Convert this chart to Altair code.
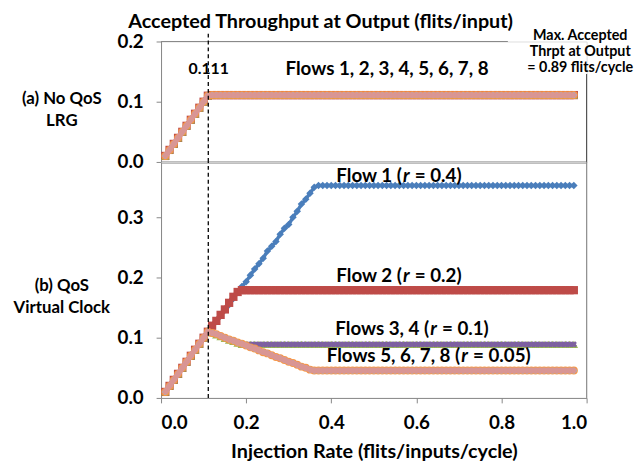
import altair as alt
import pandas as pd

FONT = "Lato"

# ---------------- data ----------------
inj = [0.01, 0.02, 0.03, 0.04, 0.05, 0.06, 0.07, 0.08, 0.09, 0.10,
       0.11, 0.12, 0.13, 0.14, 0.15, 0.16, 0.17, 0.18, 0.19, 0.20,
       0.21, 0.22, 0.23, 0.24, 0.25, 0.26, 0.27, 0.28, 0.29, 0.30,
       0.31, 0.32, 0.33, 0.34, 0.35, 0.36, 0.37, 0.38, 0.39, 0.40,
       0.41, 0.42, 0.43, 0.44, 0.45, 0.46, 0.47, 0.48, 0.49, 0.50,
       0.51, 0.52, 0.53, 0.54, 0.55, 0.56, 0.57, 0.58, 0.59, 0.60,
       0.61, 0.62, 0.63, 0.64, 0.65, 0.66, 0.67, 0.68, 0.69, 0.70,
       0.71, 0.72, 0.73, 0.74, 0.75, 0.76, 0.77, 0.78, 0.79, 0.80,
       0.81, 0.82, 0.83, 0.84, 0.85, 0.86, 0.87, 0.88, 0.89, 0.90,
       0.91, 0.92, 0.93, 0.94, 0.95, 0.96, 0.97]

# (a) No QoS, LRG: every flow gets the same throughput
lrg_all = [0.01, 0.02, 0.03, 0.04, 0.05, 0.06, 0.07, 0.08, 0.09, 0.10,
           0.11, 0.111, 0.111, 0.111, 0.111, 0.111, 0.111, 0.111, 0.111, 0.111,
           0.111, 0.111, 0.111, 0.111, 0.111, 0.111, 0.111, 0.111, 0.111, 0.111,
           0.111, 0.111, 0.111, 0.111, 0.111, 0.111, 0.111, 0.111, 0.111, 0.111,
           0.111, 0.111, 0.111, 0.111, 0.111, 0.111, 0.111, 0.111, 0.111, 0.111,
           0.111, 0.111, 0.111, 0.111, 0.111, 0.111, 0.111, 0.111, 0.111, 0.111,
           0.111, 0.111, 0.111, 0.111, 0.111, 0.111, 0.111, 0.111, 0.111, 0.111,
           0.111, 0.111, 0.111, 0.111, 0.111, 0.111, 0.111, 0.111, 0.111, 0.111,
           0.111, 0.111, 0.111, 0.111, 0.111, 0.111, 0.111, 0.111, 0.111, 0.111,
           0.111, 0.111, 0.111, 0.111, 0.111, 0.111, 0.111]

# (b) QoS, Virtual Clock
vc_flow1 = [0.01, 0.02, 0.03, 0.04, 0.05, 0.06, 0.07, 0.08, 0.09, 0.10,
            0.11, 0.118, 0.127, 0.136, 0.146, 0.155, 0.165, 0.176, 0.185, 0.193,
            0.204, 0.214, 0.223, 0.232, 0.244, 0.252, 0.260, 0.272, 0.282, 0.288,
            0.300, 0.310, 0.322, 0.330, 0.340, 0.350, 0.353, 0.353, 0.353, 0.353,
            0.353, 0.353, 0.353, 0.353, 0.353, 0.353, 0.353, 0.353, 0.353, 0.353,
            0.353, 0.353, 0.353, 0.353, 0.353, 0.353, 0.353, 0.353, 0.353, 0.353,
            0.353, 0.353, 0.353, 0.353, 0.353, 0.353, 0.353, 0.353, 0.353, 0.353,
            0.353, 0.353, 0.353, 0.353, 0.353, 0.353, 0.353, 0.353, 0.353, 0.353,
            0.353, 0.353, 0.353, 0.353, 0.353, 0.353, 0.353, 0.353, 0.353, 0.353,
            0.353, 0.353, 0.353, 0.353, 0.353, 0.353, 0.353]

vc_flow2 = [0.01, 0.02, 0.03, 0.04, 0.05, 0.06, 0.07, 0.08, 0.09, 0.10,
            0.11, 0.120, 0.128, 0.138, 0.147, 0.158, 0.168, 0.176, 0.179, 0.179,
            0.179, 0.179, 0.179, 0.179, 0.179, 0.179, 0.179, 0.179, 0.179, 0.179,
            0.179, 0.179, 0.179, 0.179, 0.179, 0.179, 0.179, 0.179, 0.179, 0.179,
            0.179, 0.179, 0.179, 0.179, 0.179, 0.179, 0.179, 0.179, 0.179, 0.179,
            0.179, 0.179, 0.179, 0.179, 0.179, 0.179, 0.179, 0.179, 0.179, 0.179,
            0.179, 0.179, 0.179, 0.179, 0.179, 0.179, 0.179, 0.179, 0.179, 0.179,
            0.179, 0.179, 0.179, 0.179, 0.179, 0.179, 0.179, 0.179, 0.179, 0.179,
            0.179, 0.179, 0.179, 0.179, 0.179, 0.179, 0.179, 0.179, 0.179, 0.179,
            0.179, 0.179, 0.179, 0.179, 0.179, 0.179, 0.179]

vc_flow34 = [0.01, 0.02, 0.03, 0.04, 0.05, 0.06, 0.07, 0.08, 0.09, 0.10,
             0.11, 0.108, 0.105, 0.102, 0.099, 0.096, 0.094, 0.091, 0.089, 0.089,
             0.089, 0.089, 0.089, 0.089, 0.089, 0.089, 0.089, 0.089, 0.089, 0.089,
             0.089, 0.089, 0.089, 0.089, 0.089, 0.089, 0.089, 0.089, 0.089, 0.089,
             0.089, 0.089, 0.089, 0.089, 0.089, 0.089, 0.089, 0.089, 0.089, 0.089,
             0.089, 0.089, 0.089, 0.089, 0.089, 0.089, 0.089, 0.089, 0.089, 0.089,
             0.089, 0.089, 0.089, 0.089, 0.089, 0.089, 0.089, 0.089, 0.089, 0.089,
             0.089, 0.089, 0.089, 0.089, 0.089, 0.089, 0.089, 0.089, 0.089, 0.089,
             0.089, 0.089, 0.089, 0.089, 0.089, 0.089, 0.089, 0.089, 0.089, 0.089,
             0.089, 0.089, 0.089, 0.089, 0.089, 0.089, 0.089]

vc_flow5678 = [0.01, 0.02, 0.03, 0.04, 0.05, 0.06, 0.07, 0.08, 0.09, 0.10,
               0.11, 0.108, 0.106, 0.103, 0.100, 0.097, 0.095, 0.092, 0.090, 0.087,
               0.084, 0.082, 0.079, 0.076, 0.074, 0.071, 0.068, 0.066, 0.063, 0.060,
               0.058, 0.055, 0.052, 0.050, 0.047, 0.0455, 0.0455, 0.0455, 0.0455, 0.0455,
               0.0455, 0.0455, 0.0455, 0.0455, 0.0455, 0.0455, 0.0455, 0.0455, 0.0455, 0.0455,
               0.0455, 0.0455, 0.0455, 0.0455, 0.0455, 0.0455, 0.0455, 0.0455, 0.0455, 0.0455,
               0.0455, 0.0455, 0.0455, 0.0455, 0.0455, 0.0455, 0.0455, 0.0455, 0.0455, 0.0455,
               0.0455, 0.0455, 0.0455, 0.0455, 0.0455, 0.0455, 0.0455, 0.0455, 0.0455, 0.0455,
               0.0455, 0.0455, 0.0455, 0.0455, 0.0455, 0.0455, 0.0455, 0.0455, 0.0455, 0.0455,
               0.0455, 0.0455, 0.0455, 0.0455, 0.0455, 0.0455, 0.0455]

flows = ["Flow 1", "Flow 2", "Flow 3", "Flow 4", "Flow 5", "Flow 6", "Flow 7", "Flow 8"]
vc_series = [vc_flow1, vc_flow2, vc_flow34, vc_flow34,
             vc_flow5678, vc_flow5678, vc_flow5678, vc_flow5678]

x_ticks = [0.0, 0.2, 0.4, 0.6, 0.8, 1.0]
top_y_ticks = [0.0, 0.1, 0.2]
bot_y_ticks = [0.0, 0.1, 0.2, 0.3]
marker_line = 0.111
max_thrpt_text = "Max. Accepted\nThrpt at Output\n= 0.89 flits/cycle"

# ---------------- styles ----------------
STAR = "M0,-1L0.22,-0.31L0.95,-0.31L0.36,0.12L0.59,0.81L0,0.38L-0.59,0.81L-0.36,0.12L-0.95,-0.31L-0.22,-0.31Z"
style = {
    "Flow 1": dict(color="#4A7EBB", sw=3.5, shape="diamond", size=58, angle=0),
    "Flow 2": dict(color="#BE4B48", sw=5.0, shape="square", size=70, angle=0),
    "Flow 3": dict(color="#98B954", sw=4.0, shape="triangle-up", size=75, angle=0),
    "Flow 4": dict(color="#7D60A0", sw=4.5, shape="cross", size=40, angle=45),
    "Flow 5": dict(color="#4BACC6", sw=4.0, shape=STAR, size=55, angle=0),
    "Flow 6": dict(color="#F79646", sw=4.0, shape="circle", size=65, angle=0),
    "Flow 7": dict(color="#95B3D7", sw=4.0, shape="cross", size=35, angle=0),
    "Flow 8": dict(color="#D99694", sw=5.5, shape="square", size=22, angle=0),
}

W = 431
TOP_H = 122
BOT_H = 239
GRAY = "#868686"
LBL = 19      # tick label size
ANN = 19      # annotation size

top_df = pd.DataFrame([(f, x, y) for f in flows for x, y in zip(inj, lrg_all)],
                      columns=["flow", "x", "y"])
bot_df = pd.DataFrame([(f, x, y) for f, s in zip(flows, vc_series) for x, y in zip(inj, s)],
                      columns=["flow", "x", "y"])

xscale = alt.Scale(domain=[0, 1.0], nice=False, zero=False)
top_yscale = alt.Scale(domain=[0, 0.2], nice=False)
bot_yscale = alt.Scale(domain=[0, 0.392], nice=False)

y_axis_common = dict(format=".1f", labelFont=FONT, labelFontWeight="bold", labelFontSize=LBL,
                     labelColor="black", domainColor=GRAY, tickColor=GRAY, tickSize=5,
                     labelPadding=13, grid=False, titleFont=FONT, titleFontWeight="bold",
                     titleFontSize=17, titleColor="black", titleAngle=0, titleAlign="center",
                     titleBaseline="top", titleX=-101, titleLineHeight=22)

top_y_axis = alt.Axis(values=top_y_ticks, title=["(a) No QoS", "LRG"], titleY=50,
                      **y_axis_common)
bot_y_axis = alt.Axis(values=bot_y_ticks, title=["(b) QoS", "Virtual Clock"], titleY=117,
                      **y_axis_common)

top_x_axis = alt.Axis(values=x_ticks, labels=False, ticks=False, domainColor="black",
                      domainWidth=1.5, title=None, grid=False)
bot_x_axis = alt.Axis(values=x_ticks, format=".1f", labelFont=FONT, labelFontWeight="bold",
                      labelFontSize=LBL, labelColor="black", domainColor=GRAY, tickColor=GRAY,
                      tickSize=5, labelPadding=11, grid=False,
                      title="Injection Rate (flits/inputs/cycle)", titleFont=FONT,
                      titleFontWeight="bold", titleFontSize=20, titleColor="black",
                      titlePadding=9)


def series_layers(df, yscale, x_axis, y_axis):
    layers = []
    for f in flows:
        st = style[f]
        base = alt.Chart(df).transform_filter(alt.datum.flow == f)
        enc = dict(x=alt.X("x:Q", scale=xscale, axis=x_axis),
                   y=alt.Y("y:Q", scale=yscale, axis=y_axis))
        layers.append(base.mark_line(color=st["color"], strokeWidth=st["sw"]).encode(**enc))
        layers.append(base.mark_point(shape=st["shape"], filled=True, size=st["size"],
                                      angle=st["angle"], color=st["color"], opacity=1)
                      .encode(**enc))
    return layers


def text_layer(xv, yv, txt, size, x_axis, y_axis, yscale, align="center", dx=0,
               italic=False, baseline="middle", line_height=None):
    df = pd.DataFrame({"x": [xv], "y": [yv], "t": [txt]})
    kw = dict(font=FONT, fontWeight="bold", fontSize=size, align=align, dx=dx,
              baseline=baseline, color="black")
    if italic:
        kw["fontStyle"] = "italic"
    if line_height:
        kw["lineBreak"] = "\n"
        kw["lineHeight"] = line_height
    return alt.Chart(df).mark_text(**kw).encode(
        x=alt.X("x:Q", scale=xscale, axis=x_axis),
        y=alt.Y("y:Q", scale=yscale, axis=y_axis),
        text="t:N")


def vrule(xv, y1, y2, x_axis, y_axis, yscale, color, width=1, dash=None):
    df = pd.DataFrame({"x": [xv], "y": [y1], "y2": [y2]})
    kw = dict(color=color, strokeWidth=width)
    if dash:
        kw["strokeDash"] = dash
    return alt.Chart(df).mark_rule(**kw).encode(
        x=alt.X("x:Q", scale=xscale, axis=x_axis),
        y=alt.Y("y:Q", scale=yscale, axis=y_axis),
        y2="y2:Q")


def hrule(x1, x2, yv, x_axis, y_axis, yscale, color, width=1):
    df = pd.DataFrame({"x": [x1], "x2": [x2], "y": [yv]})
    return alt.Chart(df).mark_rule(color=color, strokeWidth=width).encode(
        x=alt.X("x:Q", scale=xscale, axis=x_axis), x2="x2:Q",
        y=alt.Y("y:Q", scale=yscale, axis=y_axis))


def r_label(anchor, yv, left, right, axes):
    # "<left>(" + italic r + " = value)"
    return [
        text_layer(anchor, yv, left, ANN, *axes, align="right"),
        text_layer(anchor, yv, "r", ANN, *axes, align="left", dx=1, italic=True),
        text_layer(anchor, yv, right, ANN, *axes, align="left", dx=13),
    ]


TA = (top_x_axis, top_y_axis, top_yscale)
BA = (bot_x_axis, bot_y_axis, bot_yscale)

top_layers = series_layers(top_df, top_yscale, top_x_axis, top_y_axis) + [
    hrule(0, 0.815, 0.2, *TA, GRAY),
    vrule(1.0, 0, 0.146, *TA, "#404040"),
    vrule(marker_line, 0, 0.213, *TA, "black", 1.3, [4, 3]),
    text_layer(0.112, 0.154, "0.111", 16, *TA),
    text_layer(0.531, 0.154, "Flows 1, 2, 3, 4, 5, 6, 7, 8", ANN, *TA),
    text_layer(0.375, 0.232, "Accepted Throughput at Output (flits/input)", 20, *TA),
    text_layer(0.985, 0.209, max_thrpt_text, 14.5, *TA, line_height=16),
]

bot_layers = series_layers(bot_df, bot_yscale, bot_x_axis, bot_y_axis) + [
    vrule(1.0, 0, 0.392, *BA, GRAY),
    vrule(marker_line, 0, 0.392, *BA, "black", 1.3, [4, 3]),
] + r_label(0.566, 0.368, "Flow 1 (", "= 0.4)", BA) \
  + r_label(0.566, 0.202, "Flow 2 (", "= 0.2)", BA) \
  + r_label(0.630, 0.115, "Flows 3, 4 (", "= 0.1)", BA) \
  + r_label(0.703, 0.069, "Flows 5, 6, 7, 8 (", "= 0.05)", BA)

top = alt.layer(*top_layers).properties(width=W, height=TOP_H)
bottom = alt.layer(*bot_layers).properties(width=W, height=BOT_H)

chart = (alt.vconcat(top, bottom, spacing=0, bounds="flush")
         .properties(padding={"left": 4, "top": 0, "right": 0, "bottom": 0})
         .configure_view(stroke=None)
         .configure(background="white"))

chart.save("out.html", embed_options={"renderer": "svg", "actions": False})
